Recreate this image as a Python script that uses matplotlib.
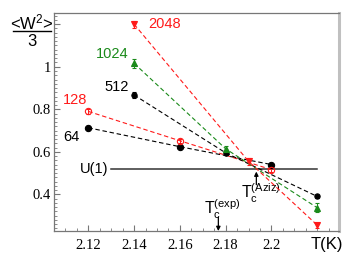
import matplotlib
matplotlib.use("Agg")
import matplotlib.pyplot as plt
from matplotlib.ticker import MultipleLocator, FixedLocator
from matplotlib.lines import Line2D

plt.rcParams['mathtext.fontset'] = 'custom'
plt.rcParams['mathtext.rm'] = 'Liberation Sans'
plt.rcParams['mathtext.it'] = 'Liberation Sans'
plt.rcParams['font.family'] = 'Liberation Sans'

# Data
T64 = [2.12, 2.16, 2.20]
W64 = [0.713, 0.624, 0.540]
E64 = [0.006, 0.006, 0.008]

T128 = [2.12, 2.16, 2.20]
W128 = [0.790, 0.652, 0.516]
E128 = [0.012, 0.010, 0.012]

T512 = [2.14, 2.18, 2.22]
W512 = [0.867, 0.595, 0.390]
E512 = [0.016, 0.010, 0.006]

T1024 = [2.14, 2.18, 2.22]
W1024 = [1.016, 0.614, 0.337]
E1024 = [0.020, 0.014, 0.020]

T2048 = [2.14, 2.19, 2.22]
W2048 = [1.200, 0.555, 0.255]
E2048 = [0.016, 0.016, 0.012]

U1_level = 0.518
U1_range = [2.130, 2.220]
Tc_exp = 2.1768
Tc_aziz = 2.1934

xticks = [2.12, 2.14, 2.16, 2.18, 2.20]
xticklabels = ['2.12', '2.14', '2.16', '2.18', '2.2']
yticks = [0.4, 0.6, 0.8, 1.0, 1.2]
yticklabels = ['0.4', '0.6', '0.8', '1', '']

fig = plt.figure(figsize=(3.52, 2.72), dpi=100)
ax = fig.add_axes([0.1534, 0.1507, 0.963 - 0.1534, 0.952 - 0.1507])

red = '#ff1a1a'
green = '#1a8a1a'

ax.plot(U1_range, [U1_level, U1_level], color='#333333', lw=1.1, zorder=2)

def series(T, W, E, color, marker, ms, mfc=None):
    ax.errorbar(T, W, yerr=E, color=color, ls=(0, (4, 2.5)), lw=0.8,
                marker=marker, ms=ms, mfc=mfc if mfc else color, mec=color,
                mew=0.8, capsize=1.5, elinewidth=0.7, zorder=3)

series(T64, W64, E64, 'black', 'o', 4.5)
series(T128, W128, E128, red, 'o', 4.5, mfc='none')
series(T512, W512, E512, 'black', 'o', 3.8)
series(T1024, W1024, E1024, green, '^', 4.5)
series(T2048, W2048, E2048, red, 'v', 4.5)

ax.set_xlim(2.105, 2.2295)
ax.set_ylim(0.2275, 1.2525)

ax.xaxis.set_major_locator(FixedLocator(xticks))
ax.set_xticklabels(xticklabels)
ax.xaxis.set_minor_locator(MultipleLocator(0.005))
ax.yaxis.set_major_locator(FixedLocator(yticks))
ax.set_yticklabels(yticklabels)
ax.yaxis.set_minor_locator(MultipleLocator(0.02))

for lab in ax.get_xticklabels() + ax.get_yticklabels():
    lab.set_fontfamily('Liberation Serif')
    lab.set_fontsize(10.5)

ax.tick_params(which='both', direction='in', color='#777777', top=False, right=False)
ax.tick_params(which='major', length=4, width=0.8)
ax.tick_params(which='minor', length=2, width=0.6)
ax.tick_params(axis='x', pad=6)
ax.tick_params(axis='y', pad=2)

for s in ['left', 'bottom', 'top']:
    ax.spines[s].set_color('#777777')
    ax.spines[s].set_linewidth(0.9)
ax.spines['right'].set_color('#c0c0c0')
ax.spines['right'].set_linewidth(2.2)

fs = 10.5
# labels
ax.text(2.1462, 1.200, '2048', color=red, fontsize=fs, ha='left', va='center')
ax.text(2.1375, 1.062, '1024', color=green, fontsize=fs, ha='right', va='center')
ax.text(2.1375, 0.905, '512', color='black', fontsize=fs, ha='right', va='center')
ax.text(2.1195, 0.842, '128', color=red, fontsize=fs, ha='right', va='center')
ax.text(2.1125, 0.668, '64', color='black', fontsize=fs, ha='center', va='center')
ax.text(2.1288, U1_level, 'U(1)', color='black', fontsize=fs, ha='right', va='center')

ax.annotate('', xy=(Tc_exp, 0.2275), xytext=(Tc_exp, 0.293),
            arrowprops=dict(arrowstyle='-|>', color='black', lw=0.9,
                            mutation_scale=6, shrinkA=0, shrinkB=0))
ax.text(2.1787, 0.330, r'T$_\mathregular{c}^\mathregular{(exp)}$',
        fontsize=11.5, ha='center', va='center')
ax.annotate('', xy=(Tc_aziz, 0.507), xytext=(Tc_aziz, 0.445),
            arrowprops=dict(arrowstyle='-|>', color='black', lw=0.9,
                            mutation_scale=6, shrinkA=0, shrinkB=0))
ax.text(2.1955, 0.405, r'T$_\mathregular{c}^\mathregular{(Aziz)}$',
        fontsize=11.5, ha='center', va='center')

fig.text(327 / 352, 1 - 244 / 272, 'T(K)', fontsize=12, ha='center', va='center')

# y label as fraction
fig.text(32 / 352, 1 - 22 / 272, r'<W$^2$>', fontsize=12, ha='center', va='center')
fig.add_artist(Line2D([13 / 352, 51 / 352], [1 - 31 / 272, 1 - 31 / 272],
                      color='black', lw=1.0))
fig.text(32 / 352, 1 - 42 / 272, '3', fontsize=12, ha='center', va='center')

fig.savefig('out.png', dpi=100)
